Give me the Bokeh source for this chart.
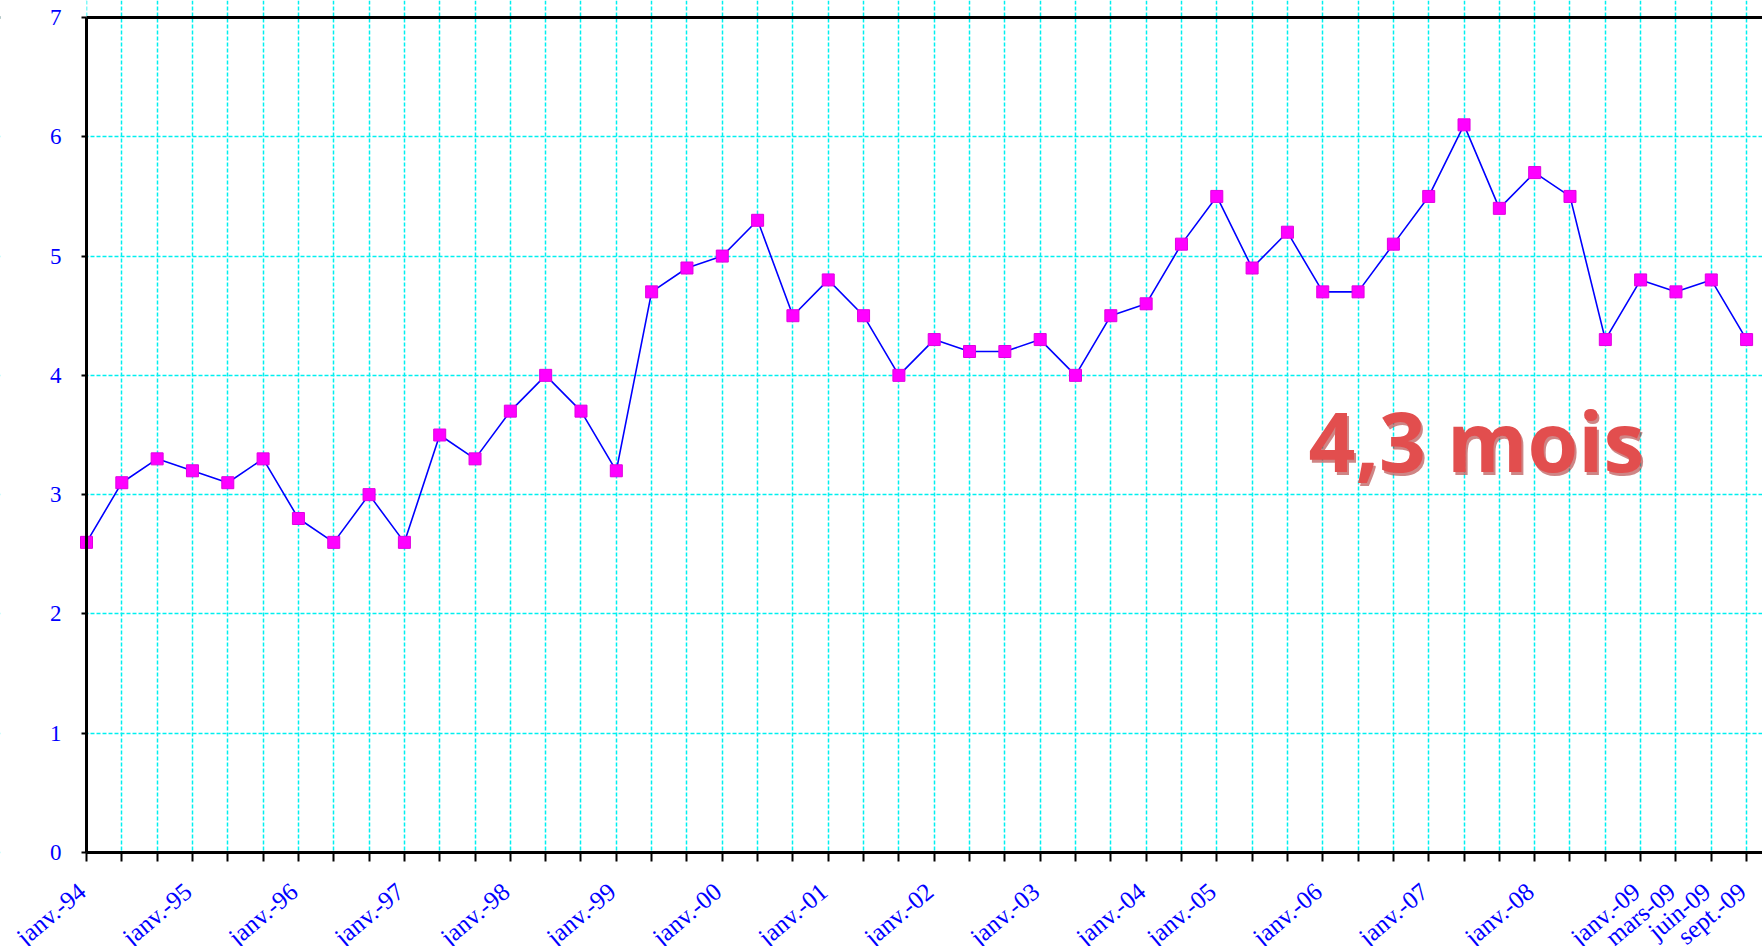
import math
from bokeh.plotting import figure
from bokeh.models import FixedTicker, Span, Label, Range1d, BoxAnnotation
from bokeh.embed import file_html
from bokeh.resources import INLINE

values = [2.6, 3.1, 3.3, 3.2, 3.1, 3.3, 2.8, 2.6, 3.0, 2.6,
          3.5, 3.3, 3.7, 4.0, 3.7, 3.2, 4.7, 4.9, 5.0, 5.3,
          4.5, 4.8, 4.5, 4.0, 4.3, 4.2, 4.2, 4.3, 4.0, 4.5,
          4.6, 5.1, 5.5, 4.9, 5.2, 4.7, 4.7, 5.1, 5.5, 6.1,
          5.4, 5.7, 5.5, 4.3, 4.8, 4.7, 4.8, 4.3]

tick_labels = ["janv.-94", "", "", "janv.-95", "", "", "janv.-96", "", "", "janv.-97",
               "", "", "janv.-98", "", "", "janv.-99", "", "", "janv.-00", "",
               "", "janv.-01", "", "", "janv.-02", "", "", "janv.-03", "", "",
               "janv.-04", "", "janv.-05", "", "", "janv.-06", "", "", "janv.-07", "",
               "", "janv.-08", "", "", "janv.-09", "mars-09", "juin-09", "sept.-09"]

y_ticks = [0, 1, 2, 3, 4, 5, 6, 7]
y_tick_labels = ["0", "1", "2", "3", "4", "5", "6", "7"]
annotation = "4,3 mois"

xs = list(range(len(values)))

# pixel layout: the plotting frame fills the whole canvas; the axes sit inside it
W, H = 1762, 946
AXIS_X, TOP, AXIS_Y = 86, 17, 852
X_END = 47.45
Y_MAX = 7
ppx = (W - AXIS_X) / X_END
ppy = (AXIS_Y - TOP) / Y_MAX

p = figure(width=W, height=H, output_backend="svg", toolbar_location=None,
           x_range=Range1d(-AXIS_X / ppx, X_END),
           y_range=Range1d(-(H - AXIS_Y) / ppy, Y_MAX + TOP / ppy),
           min_border=0, min_border_left=0, min_border_right=0,
           min_border_top=0, min_border_bottom=0)
p.outline_line_color = None
p.background_fill_color = "white"
p.border_fill_color = "white"

# grid
p.xgrid.ticker = FixedTicker(ticks=xs)
p.ygrid.ticker = FixedTicker(ticks=y_ticks)
for g in (p.xgrid, p.ygrid):
    g.grid_line_color = "#00F0F0"
    g.grid_line_dash = "4 2"
    g.grid_line_width = 1.5

# top border line, then white masks outside the data area
p.add_layout(Span(location=Y_MAX, dimension="width", line_color="black", line_width=3,
                  level="underlay"))
p.add_layout(BoxAnnotation(top=0, fill_color="white", fill_alpha=1, line_color=None,
                           level="underlay"))
p.add_layout(BoxAnnotation(right=0, fill_color="white", fill_alpha=1, line_color=None,
                           level="underlay"))

# x axis drawn at y = 0, tick marks only
xa = p.xaxis[0]
xa.fixed_location = 0
xa.bounds = (0, X_END)
xa.ticker = FixedTicker(ticks=[], minor_ticks=xs)
xa.major_tick_out = 0
xa.major_tick_in = 0
xa.major_label_standoff = 0
xa.axis_line_color = "black"
xa.axis_line_width = 3
xa.minor_tick_line_color = "black"
xa.minor_tick_line_width = 2
xa.minor_tick_out = 9
xa.minor_tick_in = 0

# y axis drawn at x = 0, tick marks only
ya = p.yaxis[0]
ya.fixed_location = 0
ya.bounds = (0, Y_MAX)
ya.ticker = FixedTicker(ticks=[], minor_ticks=y_ticks)
ya.major_tick_out = 0
ya.major_tick_in = 0
ya.major_label_standoff = 0
ya.axis_line_color = "black"
ya.axis_line_width = 3
ya.minor_tick_line_color = "black"
ya.minor_tick_line_width = 2
ya.minor_tick_out = 5
ya.minor_tick_in = 0

p.line(xs, values, line_color="#0000FF", line_width=1.6)
p.scatter(xs, values, marker="square", size=12, fill_color="#FF00FF",
          line_color="#E000E0", line_width=1)

# y tick labels
p.text(x=0, y=y_ticks, text=y_tick_labels, x_offset=-25,
       text_align="right", text_baseline="middle",
       text_font={"value": "Liberation Serif"}, text_font_size={"value": "23px"},
       text_color="#0000FF")

# rotated category labels below the axis
lab_x = [i for i, t in enumerate(tick_labels) if t]
lab_t = [t for t in tick_labels if t]
p.text(x=lab_x, y=0, text=lab_t, x_offset=-13, y_offset=25,
       angle=math.radians(40), text_align="right", text_baseline="top",
       text_font={"value": "Liberation Serif"}, text_font_size={"value": "25px"},
       text_color="#0000FF")

# annotation with shadow
p.add_layout(Label(x=34.6, y=3.46, x_offset=2, y_offset=-3, text=annotation,
                   text_font="Open Sans", text_font_style="bold", text_font_size="82px",
                   text_color="#A82020", text_alpha=0.55, text_baseline="alphabetic"))
p.add_layout(Label(x=34.6, y=3.46, text=annotation,
                   text_font="Open Sans", text_font_style="bold", text_font_size="82px",
                   text_color="#E24E4E", text_baseline="alphabetic"))

open("out.html", "w").write(file_html(p, INLINE))
